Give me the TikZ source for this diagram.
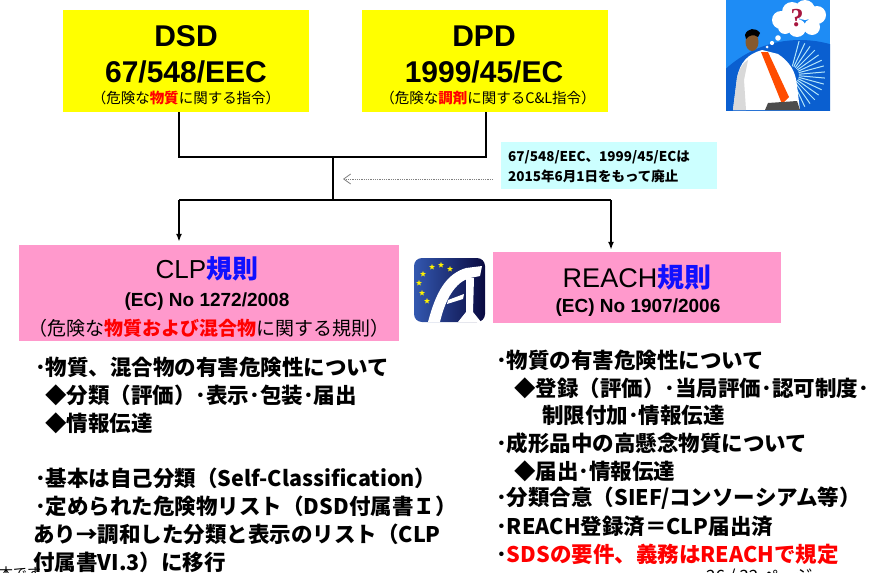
\documentclass[tikz,border=0pt]{standalone}
\usepackage{fontspec}
\setmainfont{Liberation Sans}
\newfontfamily\jp{Noto Sans CJK JP}
\usetikzlibrary{arrows.meta,shapes.geometric}

\definecolor{yellowc}{HTML}{FFFF00}
\definecolor{pinkc}{HTML}{FF99CC}
\definecolor{cyanc}{HTML}{CCFFFF}
\definecolor{redc}{HTML}{FF0000}
\definecolor{bluec}{HTML}{1010FF}
\definecolor{skyA}{HTML}{1E8CF5}
\definecolor{skyB}{HTML}{0A5FD0}
\definecolor{euL}{HTML}{3358B0}
\definecolor{euD}{HTML}{0A0A40}
\definecolor{qred}{HTML}{A8163F}

\newcommand{\fs}[1]{\fontsize{#1}{#1}\selectfont}
\newcommand{\rd}[1]{{\bfseries\color{redc}#1}}

\tikzset{
  box/.style={inner sep=0pt, draw=none},
  conn/.style={line width=1.6pt, black},
  tip/.style={-{Latex[length=8pt,width=6pt]}},
  bigtitle/.style={inner sep=0pt, font=\bfseries\fs{30}},
  subtitle/.style={inner sep=0pt, font=\jp\fs{14.5}},
  body/.style={anchor=west, inner sep=0pt, font=\jp\bfseries\fs{21.5}},
  notetext/.style={anchor=west, inner sep=0pt, font=\jp\bfseries\fs{13.5}},
}

\begin{document}
\begin{tikzpicture}[x=1pt,y=-1pt]
\useasboundingbox (0,0) rectangle (884,573);

% ---------- directives ----------
\node[box, fill=yellowc, minimum width=246pt, minimum height=102pt] (dsd) at (186,61) {};
\node[bigtitle] (dsdA) at (186,36) {DSD};
\node[bigtitle] (dsdB) at (186,72) {67/548/EEC};
\node[subtitle] (dsdC) at (186,98) {（危険な\rd{物質}に関する指令）};

\node[box, fill=yellowc, minimum width=246pt, minimum height=102pt] (dpd) at (485,61) {};
\node[bigtitle] (dpdA) at (484,36) {DPD};
\node[bigtitle] (dpdB) at (484,72) {1999/45/EC};
\node[subtitle] (dpdC) at (488,98) {（危険な\rd{調剤}に関するC\&L指令）};

% ---------- repeal note ----------
\node[box, fill=cyanc, minimum width=216pt, minimum height=47pt] (note) at (609,165.5) {};
\node[notetext] (noteA) at (508,157) {67/548/EEC、1999/45/ECは};
\node[notetext] (noteB) at (508,176.5) {2015年6月1日をもって廃止};

% ---------- regulations ----------
\node[box, fill=pinkc, minimum width=380pt, minimum height=96pt] (clp) at (209,293) {};
\node[inner sep=0pt, font=\fs{26}] (clpA) at (207,269) {CLP{\jp\bfseries\color{bluec}規則}};
\node[inner sep=0pt, font=\bfseries\fs{19}] (clpB) at (207,302) {(EC) No 1272/2008};
\node[inner sep=0pt, font=\jp\fs{19}] (clpC) at (209,328) {（危険な\rd{物質および混合物}に関する規則）};

\node[box, fill=pinkc, minimum width=288pt, minimum height=71pt] (reach) at (637,287.5) {};
\node[inner sep=0pt, font=\fs{27}] (reachA) at (637,277) {REACH{\jp\bfseries\color{bluec}規則}};
\node[inner sep=0pt, font=\bfseries\fs{19}] (reachB) at (638,308) {(EC) No 1907/2006};

% ---------- connectors ----------
\coordinate (a) at (179,157);
\coordinate (b) at (486,157);
\coordinate (j) at (333,157);
\coordinate (j2) at (333,200);
\coordinate (k) at (179,200);
\coordinate (m) at (611,200);
\coordinate (dl) at (343,179);
\draw[conn] (a |- dsd.south) -- (a) -- (b) -- (b |- dpd.south);
\draw[conn] (j) -- (j2);
\draw[conn] (k) -- (m);
\draw[conn, tip] (k) -- ([yshift=3pt]k |- clp.north);
\draw[conn, tip] (m) -- ([yshift=2pt]m |- reach.north);
\draw[gray, line width=0.9pt, dash pattern=on 0.9pt off 0.9pt,
      -{Straight Barb[length=7pt,width=10pt,line width=0.8pt]}, shorten <=8pt]
      (note.west |- dl) -- (dl);

% ---------- CLP text ----------
\node[body] (l1) at (35,367) {･物質、混合物の有害危険性について};
\node[body] (l2) at (45,395) {◆分類（評価）･表示･包装･届出};
\node[body] (l3) at (45,423) {◆情報伝達};
\node[body] (l4) at (35,478) {･基本は自己分類（Self-Classification）};
\node[body] (l5) at (35,506) {･定められた危険物リスト（DSD付属書Ｉ）};
\node[body] (l6) at (33,534) {あり→調和した分類と表示のリスト（CLP};
\node[body] (l7) at (33,562) {付属書VI.3）に移行};

% ---------- REACH text ----------
\node[body] (r1) at (496,360) {･物質の有害危険性について};
\node[body] (r2) at (514,388) {◆登録（評価）･当局評価･認可制度･};
\node[body] (r3) at (542,415) {制限付加･情報伝達};
\node[body] (r4) at (496,443) {･成形品中の高懸念物質について};
\node[body] (r5) at (514,471) {◆届出･情報伝達};
\node[body] (r6) at (496,498) {･分類合意（SIEF/コンソーシアム等）};
\node[body] (r7) at (496,526) {･REACH登録済＝CLP届出済};
\node[body] (r8) at (496,554) {･{\color{redc}SDSの要件、義務はREACHで規定}};

% ---------- page footer (runs off the lower edge) ----------
\node[anchor=base west, inner sep=0pt, font=\jp\fs{14}] (footL) at (-1,578) {本です};
\node[anchor=base west, inner sep=0pt, font=\jp\fs{17}] (footR) at (706,582) {26 / 32 ページ};

% ---------- EU agency logo ----------
\shade[rounded corners=8pt, left color=euL, right color=euD] (414,258) rectangle (485,322);
\foreach \sx/\sy [count=\i] in {432/267, 441/265, 450/269, 423/274, 419/283, 422/293, 427/301}
  \node[star, star points=5, star point ratio=2.3, fill=yellow, inner sep=0pt, minimum size=6pt] (st\i) at (\sx,\sy) {};
\fill[white] (428,322) .. controls (436,292) and (446,274) .. (466,268) -- (482,266)
  -- (480,276) -- (470,278) .. controls (455,282) and (445,300) .. (440,322) -- cycle;
\fill[white] (466,278) -- (474,278) -- (473,312) -- (481,322) -- (458,322) -- (466,312) -- cycle;
\fill[white] (448,300) -- (464,294) -- (463,299) -- (447,304) -- cycle;

% ---------- puzzled man illustration ----------
\begin{scope}
  \clip (726,0) rectangle (830,110);
  \fill[skyA] (726,0) rectangle (830,110);
  \fill[skyB] (800,150) circle (110);
  \foreach \ang in {-75,-65,...,85}
    \draw[white!70!cyan, line width=1pt] (790,75) ++(\ang:9) -- ++(\ang:26);
  % shirt
  \fill[white] (733,110) -- (737,78) .. controls (740,62) and (748,54) .. (762,50)
    -- (778,54) .. controls (790,62) and (796,72) .. (797,86) -- (800,110) -- cycle;
  \fill[black!15] (733,110) -- (737,78) .. controls (739,68) and (744,62) .. (748,60)
    -- (744,80) -- (746,110) -- cycle;
  % tie
  \fill[orange!60!red] (761,52) -- (768,52) -- (789,97) -- (782,104) -- cycle;
  % trousers
  \fill[black!70] (768,103) -- (797,101) -- (800,110) -- (765,110) -- cycle;
  % head and hair
  \fill[brown!70!black] (752,42) ellipse (6.5 and 9);
  \fill[black] (745,35) .. controls (747,28) and (756,27) .. (760,33) -- (758,37)
    .. controls (754,34) and (749,35) .. (746,39) -- cycle;
  % thought cloud
  \fill[white] (781,20) circle (9) (792,12) circle (10) (805,10) circle (10)
    (817,15) circle (9) (812,27) circle (8) (797,28) circle (9) (785,27) circle (7);
  \fill[white] (778,38) circle (2.8) (772,43) circle (2.1) (767,47) circle (1.5);
  \node[inner sep=0pt, font=\bfseries\fs{26}\fontspec{Liberation Serif}, text=qred] (q) at (797,18) {?};
\end{scope}

\end{tikzpicture}
\end{document}
